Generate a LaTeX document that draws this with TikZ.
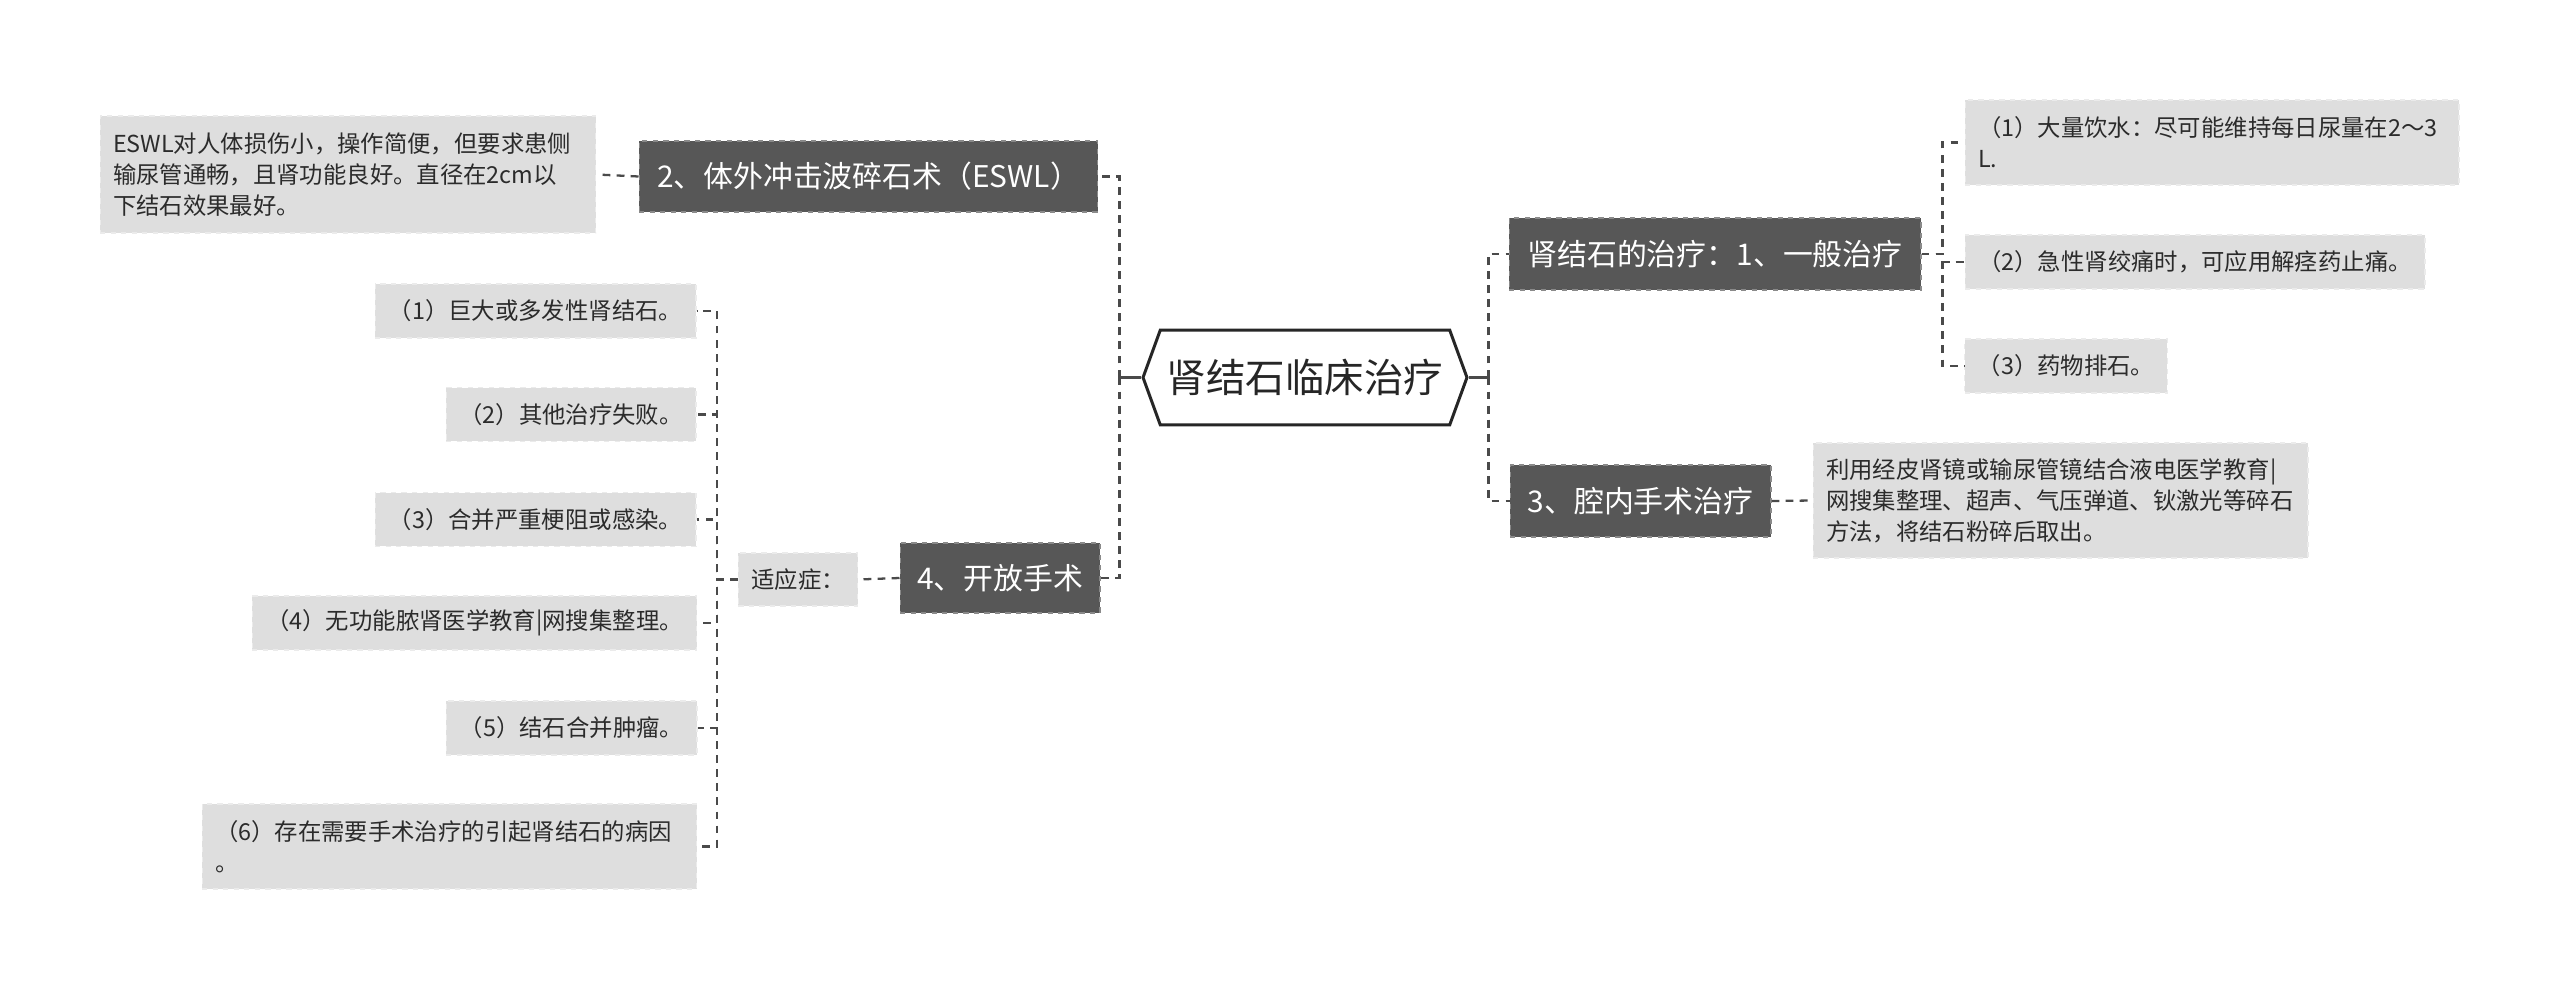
\documentclass[tikz,border=0pt]{standalone}
\usepackage{fontspec}
\setmainfont{Noto Sans CJK SC}
\usepackage{xcolor}
\usetikzlibrary{shapes.symbols}
\definecolor{BoxGray}{HTML}{575757}
\definecolor{BoxEdge}{HTML}{8A8A8A}
\definecolor{LeafGray}{HTML}{DEDEDE}
\definecolor{LeafEdge}{HTML}{EBEBEB}
\definecolor{LinkGray}{HTML}{4A4A4A}
\definecolor{InkGray}{HTML}{2B2B2B}

\begin{document}
\begin{tikzpicture}[
      x=0.02cm,y=-0.02cm,
      root/.style={shape=signal,signal to=west and east,signal pointer angle=140,draw=black!85,line width=1.7pt,fill=white,minimum width=6.48cm,minimum height=1.9cm,font=\fontsize{22.5}{27}\selectfont,text=black!85},
      topic/.style={draw=BoxEdge,dashed,fill=BoxGray,text=white,line width=0.6pt,minimum height=1.42cm,font=\fontsize{17}{20}\selectfont},
      leaf/.style={draw=LeafEdge,dashed,fill=LeafGray,text=InkGray,line width=0.6pt,minimum height=1.08cm,inner xsep=0.26cm,font=\fontsize{13.3}{17.6}\selectfont},
      link/.style={draw=LinkGray,line width=1.3pt,dash pattern=on 4.5pt off 3.5pt},
      stub/.style={draw=LinkGray,line width=1.7pt}
    ]
      \useasboundingbox (0,0) rectangle (2560,990);
      % centre
      \node[root] (root) at (1305,377.5) {肾结石临床治疗};
      % main branches
      \node[topic,minimum width=9.18cm] (eswl) at (868.5,176.5) {2、体外冲击波碎石术（ESWL）};
      \node[topic,minimum width=4cm,minimum height=1.4cm] (open) at (1000,578) {4、开放手术};
      \node[topic,minimum width=8.24cm,minimum height=1.44cm] (gen) at (1715,254) {肾结石的治疗：1、一般治疗};
      \node[topic,minimum width=5.22cm,minimum height=1.44cm] (endo) at (1640.5,501) {3、腔内手术治疗};
      % notes
      \node[leaf,text width=9.4cm,align=left,minimum height=2.34cm] (eswlnote) at (348,174.5) {ESWL对人体损伤小，操作简便，但要求患侧\\输尿管通畅，且肾功能良好。直径在2cm以\\下结石效果最好。};
      \node[leaf,text width=9.36cm,align=left,minimum height=1.7cm] (r1) at (2212,142.5) {（1）大量饮水：尽可能维持每日尿量在2～3\\L.};
      \node[leaf,minimum width=9.2cm] (r2) at (2195,262) {（2）急性肾绞痛时，可应用解痉药止痛。};
      \node[leaf,minimum width=4.04cm] (r3) at (2066,366) {（3）药物排石。};
      \node[leaf,text width=9.38cm,align=left,minimum height=2.3cm] (endonote) at (2060.5,500.5) {利用经皮肾镜或输尿管镜结合液电医学教育|\\网搜集整理、超声、气压弹道、钬激光等碎石\\方法，将结石粉碎后取出。};
      \node[leaf,minimum width=2.36cm,minimum height=1.06cm] (shi) at (798,579.5) {适应症：};
      \node[leaf,minimum width=6.42cm] (l1) at (535.5,311) {（1）巨大或多发性肾结石。};
      \node[leaf,minimum width=5cm] (l2) at (571,414.5) {（2）其他治疗失败。};
      \node[leaf,minimum width=6.42cm] (l3) at (535.5,519.5) {（3）合并严重梗阻或感染。};
      \node[leaf,minimum width=8.9cm] (l4) at (474.5,623) {（4）无功能脓肾医学教育|网搜集整理。};
      \node[leaf,minimum width=5.02cm] (l5) at (571.5,728) {（5）结石合并肿瘤。};
      \node[leaf,text width=9.38cm,align=left,minimum height=1.7cm] (l6) at (449.5,846.5) {（6）存在需要手术治疗的引起肾结石的病因\\。};
      % connectors
      \draw[stub] (root.west) -- ++(-22,0) coordinate (lt);
      \draw[stub] (lt) ++(0,-7.5) -- ++(0,15);
      \draw[link] (lt) |- (eswl.east);
      \draw[link] (lt) |- (open.east);
      \draw[stub] (root.east) -- ++(20,0) coordinate (rt);
      \draw[stub] (rt) ++(0,-7.5) -- ++(0,15);
      \draw[link] (rt) |- (gen.west);
      \draw[link] (rt) |- (endo.west);
      \foreach \n in {r1,r2,r3} \draw[link] (gen.east) -- ++(21,0) |- (\n.west);
      \draw[link] (endo.east) -- (endonote.west);
      \draw[link] (eswl.west) -- (eswlnote.east);
      \draw[link] (open.west) -- (shi.east);
      \foreach \n in {l1,l2,l3,l4,l5,l6} \draw[link] (shi.west) -- ++(-21,0) |- (\n.east);
    \end{tikzpicture}
\end{document}
